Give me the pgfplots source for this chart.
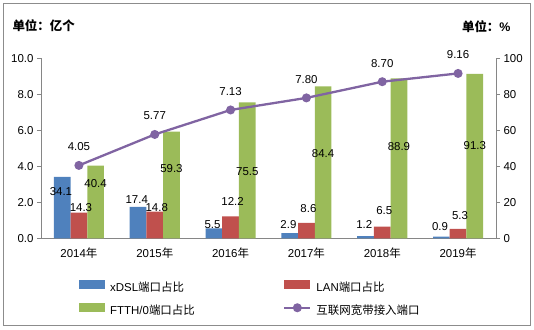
\documentclass[border=0pt]{standalone}
\usepackage{fontspec}
\setmainfont{Liberation Sans}
\newfontfamily\cjk{Noto Sans CJK SC}
\usepackage{pgfplots}
\pgfplotsset{compat=1.18}
\usepackage{pgfplotstable}
\definecolor{xblue}{HTML}{4F81BD}
\definecolor{xred}{HTML}{C0504D}
\definecolor{xgreen}{HTML}{9BBB59}
\definecolor{xpurple}{HTML}{8064A2}
\definecolor{axgray}{HTML}{868686}
\definecolor{frgray}{HTML}{8C8C8C}

\pgfplotstableread{
x dsl lan ftth
0 34.1 14.3 40.4
1 17.4 14.8 59.3
2 5.5 12.2 75.5
3 2.9 8.6 84.4
4 1.2 6.5 88.9
5 0.9 5.3 91.3
}\bardata

\pgfplotstableread{
x ports
0 4.05
1 5.77
2 7.13
3 7.80
4 8.70
5 9.16
}\linedata

% label positions (left-axis units) for the bar values
\pgfplotstableread{
x y lab
0 2.57 34.1
1 2.17 17.4
2 0.78 5.5
3 0.78 2.9
4 0.78 1.2
5 0.68 0.9
}\dsllab
\pgfplotstableread{
x y lab
0 1.70 14.3
1 1.70 14.8
2 2.03 12.2
3 1.67 8.6
4 1.53 6.5
5 1.29 5.3
}\lanlab
\pgfplotstableread{
x y lab
0 3.05 40.4
1 3.89 59.3
2 3.70 75.5
3 4.72 84.4
4 5.09 88.9
5 5.18 91.3
}\ftthlab

\pgfplotsset{
  barleg/.style={legend image code/.code={\fill[##1] (0bp,-1bp) rectangle (26bp,8bp);}},
  lineleg/.style={legend image code/.code={\draw[mark repeat=2,mark phase=2,##1] plot coordinates {(0bp,3.5bp) (13bp,3.5bp) (26bp,3.5bp)};}},
  common/.style={
    scale only axis, width=455bp, height=180bp,
    at={(41bp,-238.3bp)}, anchor=south west,
    xmin=-0.5, xmax=5.5, clip=false,
    tick align=outside, major tick length=4bp,
    axis line style={axgray, line width=0.8bp},
    tick style={axgray, line width=0.8bp},
    tick label style={black},
    /pgf/number format/assume math mode=true,
  },
  lbl/.style={draw=none, mark=none, forget plot, nodes near coords,
    point meta=explicit symbolic,
    every node near coord/.append style={anchor=center, black, inner sep=0pt, xshift=#1}},
}

\begin{document}
\begin{tikzpicture}[font=\fontsize{11.5}{13}\selectfont]
\path (0bp,0bp) rectangle (534bp,-330bp);
\draw[frgray, line width=0.9bp] (3.5bp,-3.5bp) rectangle (530.5bp,-325.5bp);

% bars on the right axis (percent)
\begin{axis}[common,
  ybar, bar width=16.7bp,
  ymin=0, ymax=100, ytick={0,20,40,60,80,100},
  axis y line*=right, axis x line*=bottom,
  xtick={0,1,2,3,4,5},
  xticklabels={2014{\cjk 年},2015{\cjk 年},2016{\cjk 年},2017{\cjk 年},2018{\cjk 年},2019{\cjk 年}},
  x tick style={draw=none},
  extra x ticks={0.5,1.5,2.5,3.5,4.5},
  extra x tick labels={},
  extra x tick style={tick style={draw=axgray}, major tick length=4bp},
  xticklabel style={yshift=-2bp},
  yticklabel style={/pgf/number format/fixed},
]
\addplot[fill=xblue, draw=none, bar shift=-16.7bp] table[x=x,y=dsl] {\bardata};
\addplot[fill=xred, draw=none, bar shift=0bp] table[x=x,y=lan] {\bardata};
\addplot[fill=xgreen, draw=none, bar shift=16.7bp] table[x=x,y=ftth] {\bardata};
\end{axis}

% line on the left axis
\begin{axis}[common,
  ymin=0, ymax=10, ytick={0,2,4,6,8,10},
  axis y line*=left, axis x line=none,
  yticklabel style={/pgf/number format/.cd, fixed, fixed zerofill, precision=1},
  legend columns=2,
  legend cell align=left,
  legend style={at={(0.0835,-0.232)}, anchor=north west, draw=none, fill=none,
    inner sep=0pt, row sep=9.5bp,
    nodes={inner sep=0pt, text height=9bp, text depth=2bp},
    /tikz/every odd column/.append style={column sep=5bp},
    /tikz/every even column/.append style={column sep=0bp}},
]
\addlegendimage{barleg, fill=xblue, draw=none}
\addlegendentry{\makebox[173bp][l]{xDSL{\cjk 端口占比}}}
\addlegendimage{barleg, fill=xred, draw=none}
\addlegendentry{LAN{\cjk 端口占比}}
\addlegendimage{barleg, fill=xgreen, draw=none}
\addlegendentry{\makebox[173bp][l]{FTTH/0{\cjk 端口占比}}}
\addplot[lineleg, xpurple, line width=2.3bp, mark=*, mark size=3.3bp,
  mark options={fill=xpurple, draw=xpurple},
  nodes near coords, point meta=explicit symbolic,
  every node near coord/.append style={anchor=center, black, yshift=18.5bp, inner sep=0pt}]
  table[x=x,y=ports,meta=ports] {\linedata};
\addlegendentry{{\cjk 互联网宽带接入端口}}

\addplot[lbl=-18bp] table[x=x,y=y,meta=lab] {\dsllab};
\addplot[lbl=2bp] table[x=x,y=y,meta=lab] {\lanlab};
\addplot[lbl=16.7bp] table[x=x,y=y,meta=lab] {\ftthlab};
\end{axis}

\node[anchor=west, font=\fontsize{12.5}{14}\selectfont\cjk\bfseries] at (9bp,-26bp) {单位：亿个};
\node[anchor=east, font=\fontsize{12.5}{14}\selectfont\bfseries] at (514bp,-27bp) {{\cjk 单位：}\%};
\end{tikzpicture}
\end{document}
